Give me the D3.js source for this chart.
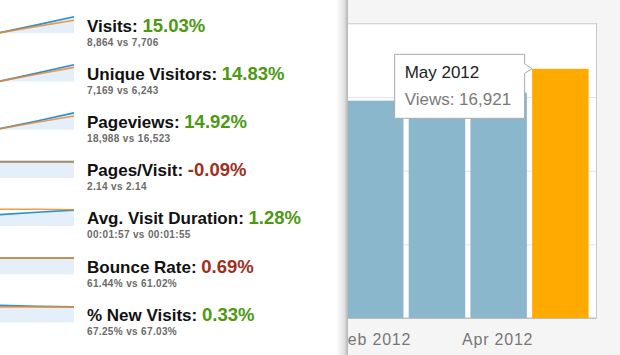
<!DOCTYPE html>
<html lang="en">
<head>
    <meta charset="UTF-8">
    <title>Views by month</title>
    <script src="https://d3js.org/d3.v7.min.js"></script>
    <style>
        body { margin: 0; background: #fff; }
        svg { display: block; }
        .label { font: bold 17px "Liberation Sans", Arial, sans-serif; fill: #111; }
        .change { font: bold 18.5px "Liberation Sans", Arial, sans-serif; }
        .compare { font: bold 10px "Liberation Sans", Arial, sans-serif; fill: #6b6b6b; letter-spacing: 0.35px; }
        .xaxis text { font: 16px "Liberation Sans", Arial, sans-serif; fill: #777; letter-spacing: 0.8px; }
        .grid line { stroke: #e2e2e2; }
        .tip-title { font: 17px "Liberation Sans", Arial, sans-serif; fill: #222; }
        .tip-value { font: 17px "Liberation Sans", Arial, sans-serif; fill: #7a7a7a; }
    </style>
</head>
<body>
    <script>
        // metrics list (left side)
        var metricNames = ["Visits", "Unique Visitors", "Pageviews", "Pages/Visit",
                           "Avg. Visit Duration", "Bounce Rate", "% New Visits"];
        var metricChanges = ["15.03%", "14.83%", "14.92%", "-0.09%", "1.28%", "0.69%", "0.33%"];
        var metricGood = [true, true, true, false, true, false, true];
        var metricCompare = ["8,864 vs 7,706", "7,169 vs 6,243", "18,988 vs 16,523", "2.14 vs 2.14",
                             "00:01:57 vs 00:01:55", "61.44% vs 61.02%", "67.25% vs 67.03%"];

        // sparklines, relative to each metric's own range (0 = low, 1 = high)
        var sparkCurrent = [
            [0.04, 0.5, 0.98],
            [0.02, 0.5, 1.0],
            [0.06, 0.52, 1.0],
            [0.97, 0.97, 0.97],
            [0.68, 0.82, 0.95],
            [0.96, 0.96, 0.96],
            [1.02, 0.96, 0.93]
        ];
        var sparkPrevious = [
            [0.04, 0.41, 0.78],
            [0.02, 0.43, 0.84],
            [0.06, 0.44, 0.82],
            [0.95, 0.95, 0.95],
            [1.0, 1.0, 0.97],
            [0.96, 0.96, 0.96],
            [0.93, 0.93, 0.93]
        ];

        // bar chart (right side)
        var months = ["Feb 2012", "Mar 2012", "Apr 2012", "May 2012"];
        var views = [14760, 15000, 15300, 16921];
        var monthLabels = ["Feb 2012", "Apr 2012"];
        var gridValues = [0, 5000, 10000, 15000, 20000];
        var selectedMonth = "May 2012";

        var width = 620, height = 355;

        var svg = d3.select("body").append("svg")
            .attr("width", width)
            .attr("height", height);

        var defs = svg.append("defs");
        defs.append("clipPath").attr("id", "panel-clip")
            .append("rect").attr("x", 348).attr("y", 0).attr("width", 272).attr("height", height);
        var grad = defs.append("linearGradient").attr("id", "shadow");
        grad.append("stop").attr("offset", "0%").attr("stop-color", "#000").attr("stop-opacity", 0);
        grad.append("stop").attr("offset", "70%").attr("stop-color", "#000").attr("stop-opacity", 0.12);
        grad.append("stop").attr("offset", "100%").attr("stop-color", "#000").attr("stop-opacity", 0.3);

        // ---- chart panel ----
        var plotRight = 596, plotTop = 23.5, plotBottom = 318;

        var x = d3.scaleBand()
            .domain(months)
            .range([339.6, plotRight])
            .paddingInner(0.085)
            .paddingOuter(0.12);

        var y = d3.scaleLinear()
            .domain([0, 20000])
            .range([plotBottom, plotTop]);

        svg.append("rect")
            .attr("x", 336).attr("y", 0)
            .attr("width", 12).attr("height", height)
            .attr("fill", "url(#shadow)");

        var panel = svg.append("g").attr("clip-path", "url(#panel-clip)");

        panel.append("rect")
            .attr("x", 348).attr("y", 0)
            .attr("width", 272).attr("height", height)
            .attr("fill", "#f5f5f5");

        panel.append("rect")
            .attr("x", 300).attr("y", plotTop)
            .attr("width", plotRight + 0.5 - 300).attr("height", plotBottom - plotTop)
            .attr("fill", "#fff")
            .attr("stroke", "#c8c8c8");

        panel.append("g")
            .attr("class", "grid")
            .attr("transform", "translate(" + plotRight + ",0)")
            .call(d3.axisLeft(y).tickValues(gridValues).tickSize(plotRight - 300).tickFormat(""))
            .call(g => g.select(".domain").remove());

        panel.selectAll(".bar")
            .data(months)
            .enter().append("rect")
            .attr("class", "bar")
            .attr("x", d => x(d))
            .attr("y", (d, i) => y(views[i]))
            .attr("width", x.bandwidth())
            .attr("height", (d, i) => plotBottom - y(views[i]))
            .attr("fill", d => d === selectedMonth ? "#ffaa00" : "#8bb7cd");

        panel.append("line")
            .attr("x1", 300).attr("x2", plotRight + 0.5)
            .attr("y1", plotBottom + 0.5).attr("y2", plotBottom + 0.5)
            .attr("stroke", "#bdbdbd");

        panel.append("g")
            .attr("class", "xaxis")
            .attr("transform", "translate(0," + plotBottom + ")")
            .call(d3.axisBottom(x).tickValues(monthLabels).tickSize(0))
            .call(g => g.select(".domain").remove())
            .selectAll("text")
            .attr("x", -1)
            .attr("y", 27)
            .attr("dy", 0);

        // tooltip pointing at the selected bar
        var selIndex = months.indexOf(selectedMonth);
        var tipX = x(selectedMonth), tipY = y(views[selIndex]);
        var boxR = tipX - 7.5, boxL = boxR - 130, boxT = tipY - 14.5, boxB = boxT + 64;
        panel.append("path")
            .attr("d", "M" + boxL + "," + boxT + "H" + boxR + "V" + (tipY - 5) +
                       "L" + tipX + "," + tipY + "L" + boxR + "," + (tipY + 4.5) +
                       "V" + boxB + "H" + boxL + "Z")
            .attr("fill", "#fff")
            .attr("stroke", "#aaa");
        panel.append("text")
            .attr("class", "tip-title")
            .attr("x", boxL + 10).attr("y", boxT + 24)
            .text(selectedMonth);
        panel.append("text")
            .attr("class", "tip-value")
            .attr("x", boxL + 10).attr("y", boxT + 51)
            .text("Views: " + d3.format(",")(views[selIndex]));

        // ---- metric list ----
        var row = d3.scaleBand()
            .domain(metricNames)
            .range([8, 8 + 48.2 * metricNames.length]);

        var sx = d3.scaleLinear().domain([0, 2]).range([0, 74]);
        var sy = d3.scaleLinear().domain([0, 1]).range([25.3, 8.5]);
        var line = d3.line().x((d, i) => sx(i)).y(d => sy(d));
        var area = d3.area().x((d, i) => sx(i)).y0(sy(0)).y1(d => sy(d));

        var rows = svg.selectAll(".metric")
            .data(metricNames)
            .enter().append("g")
            .attr("class", "metric")
            .attr("transform", d => "translate(0," + row(d) + ")");

        rows.append("path")
            .attr("d", (d, i) => area(sparkCurrent[i]))
            .attr("fill", "#e4eff9");
        rows.append("path")
            .attr("d", (d, i) => line(sparkCurrent[i]))
            .attr("fill", "none")
            .attr("stroke", "#2a8fd4")
            .attr("stroke-width", 1.6);
        rows.append("path")
            .attr("d", (d, i) => line(sparkPrevious[i]))
            .attr("fill", "none")
            .attr("stroke", "#eb8a2a")
            .attr("stroke-opacity", 0.85)
            .attr("stroke-width", 1.6);

        var title = rows.append("text")
            .attr("x", 87).attr("y", 23.5);
        title.append("tspan")
            .attr("class", "label")
            .text(d => d + ": ");
        title.append("tspan")
            .attr("class", "change")
            .attr("fill", (d, i) => metricGood[i] ? "#4b9a12" : "#9e2f1d")
            .text((d, i) => metricChanges[i]);

        rows.append("text")
            .attr("class", "compare")
            .attr("x", 87).attr("y", 37.5)
            .text((d, i) => metricCompare[i]);
    </script>
</body>
</html>
